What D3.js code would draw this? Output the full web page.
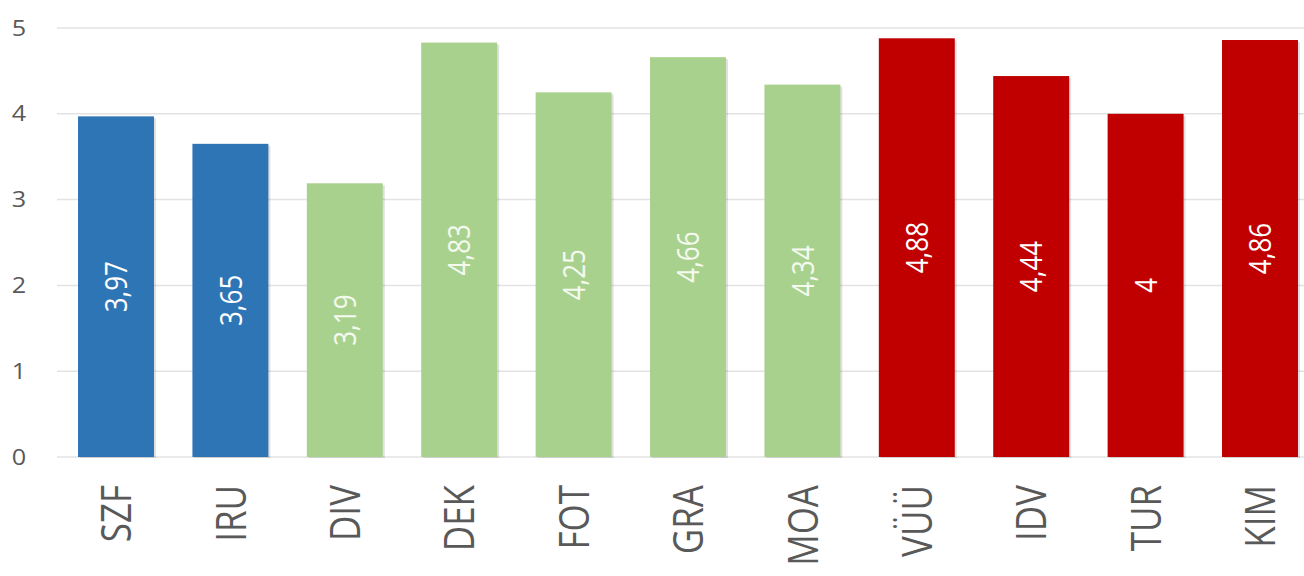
<!DOCTYPE html>
<html>
<head>
<meta charset="utf-8">
<title>Bar chart</title>
<script src="https://d3js.org/d3.v7.min.js"></script>
<style>
  body { margin: 0; background: #fff; }
  svg { display: block; }
  .grid line { stroke: #e3e3e3; stroke-width: 1.5px; }
  text { font-family: "Open Sans", sans-serif; }
</style>
</head>
<body>
<svg width="1304" height="576"></svg>
<script>
// data
const categories = ["SZF", "IRU", "DIV", "DEK", "FOT", "GRA", "MOA", "VÜÜ", "IDV", "TUR", "KIM"];
const values = [3.97, 3.65, 3.19, 4.83, 4.25, 4.66, 4.34, 4.88, 4.44, 4, 4.86];
const groups = ["blue", "blue", "green", "green", "green", "green", "green", "red", "red", "red", "red"];
const yTicks = [0, 1, 2, 3, 4, 5];

const fillColor = { blue: "#2e75b6", green: "#a9d18e", red: "#c00000" };
const labelColor = { blue: "#ffffff", green: "#f4faee", red: "#ffffff" };

const svg = d3.select("svg");
const stretch = 1.2; // the picture looks widened horizontally

const x = d3.scaleBand()
    .domain(categories)
    .range([58.8, 1317.2])
    .paddingInner(0.336)
    .paddingOuter(0.168);

const y = d3.scaleLinear().domain([0, 5]).range([457, 28]);

// gridlines
svg.append("g").attr("class", "grid")
    .selectAll("line")
    .data(yTicks)
    .join("line")
    .attr("x1", 57).attr("x2", 1304)
    .attr("y1", d => y(d)).attr("y2", d => y(d));

// y tick labels
svg.append("g")
    .selectAll("text")
    .data(yTicks)
    .join("text")
    .attr("transform", d => `translate(19,${y(d)}) scale(${stretch},1)`)
    .attr("text-anchor", "middle")
    .attr("dy", "0.36em")
    .attr("fill", "#595959")
    .style("font-size", "21px")
    .text(d => d);

const data = categories.map((c, i) => ({ cat: c, v: values[i], g: groups[i] }));

// faint shadow on the right of each bar
svg.append("g")
    .selectAll("rect")
    .data(data)
    .join("rect")
    .attr("x", d => x(d.cat) + 2)
    .attr("y", d => y(d.v) + 2)
    .attr("width", x.bandwidth())
    .attr("height", d => y(0) - y(d.v) - 1)
    .attr("fill", "#000")
    .attr("opacity", 0.12);

svg.append("g")
    .selectAll("rect")
    .data(data)
    .join("rect")
    .attr("x", d => x(d.cat))
    .attr("y", d => y(d.v))
    .attr("width", x.bandwidth())
    .attr("height", d => y(0) - y(d.v))
    .attr("fill", d => fillColor[d.g]);

// value labels, rotated inside bars
svg.append("g")
    .selectAll("text")
    .data(data)
    .join("text")
    .attr("transform", d => `translate(${x(d.cat) + x.bandwidth() / 2},${(y(d.v) + y(0)) / 2}) scale(${stretch},1) rotate(-90)`)
    .attr("text-anchor", "middle")
    .attr("dy", "0.36em")
    .attr("fill", d => labelColor[d.g])
    .style("font-size", "26px")
    .text(d => String(d.v).replace(".", ","));

// category labels
svg.append("g")
    .selectAll("text")
    .data(categories)
    .join("text")
    .attr("transform", d => `translate(${x(d) + x.bandwidth() / 2},485) scale(${stretch},1) rotate(-90)`)
    .attr("text-anchor", "end")
    .attr("dy", "0.36em")
    .attr("fill", "#595959")
    .style("font-size", "35px")
    .text(d => d);
</script>
</body>
</html>
